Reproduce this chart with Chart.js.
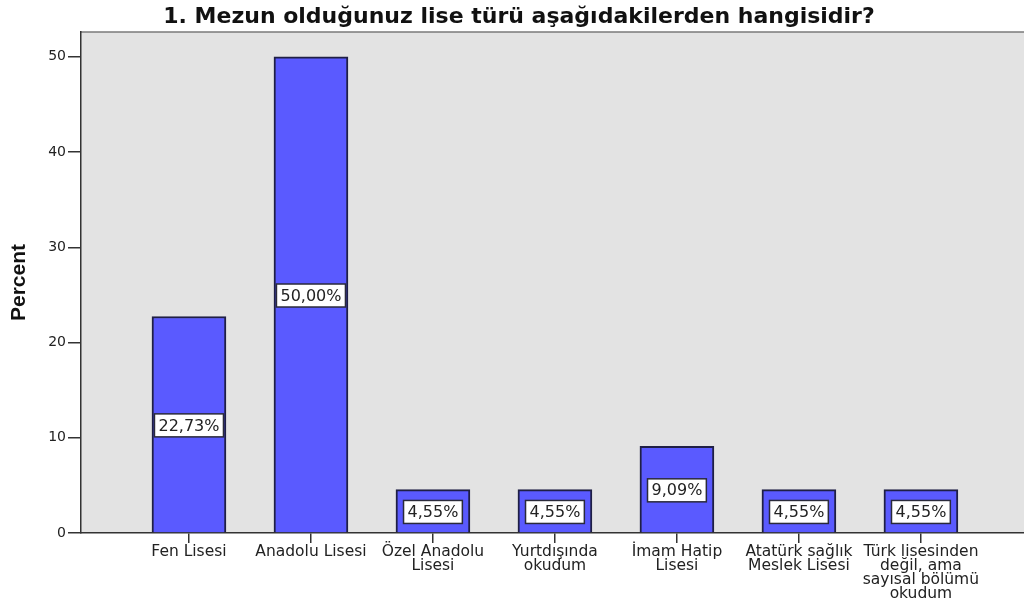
<!DOCTYPE html>
<html>
<head>
<meta charset="utf-8">
<script src="https://cdn.jsdelivr.net/npm/chart.js@4"></script>
<style>
  body { margin: 0; background: #fff; }
  #wrap { width: 1024px; height: 606px; }
</style>
</head>
<body>
<div id="wrap"><canvas id="liseChart"></canvas></div>
<script>
const chartTitle = '1. Mezun olduğunuz lise türü aşağıdakilerden hangisidir?';
const categories = [
    'Fen Lisesi',
    'Anadolu Lisesi',
    ['Özel Anadolu', 'Lisesi'],
    ['Yurtdışında', 'okudum'],
    ['İmam Hatip', 'Lisesi'],
    ['Atatürk sağlık', 'Meslek Lisesi'],
    ['Türk lisesinden', 'değil, ama', 'sayısal bölümü', 'okudum']
];
const percents = [22.73, 50.00, 4.55, 4.55, 9.09, 4.55, 4.55];
const yTicks = [0, 10, 20, 30, 40, 50];

document.addEventListener('DOMContentLoaded', function() {
    // grey plot background + thin frame on top, title
    const plotBackground = {
        id: 'plotBackground',
        beforeDraw(chart) {
            const a = chart.chartArea;
            const ctx = chart.ctx;
            ctx.save();
            ctx.fillStyle = '#e3e3e3';
            ctx.fillRect(a.left, a.top, a.right - a.left, a.bottom - a.top);
            ctx.strokeStyle = '#7a7a7a';
            ctx.lineWidth = 1.5;
            ctx.beginPath();
            ctx.moveTo(a.left, a.top);
            ctx.lineTo(a.right, a.top);
            ctx.stroke();
            ctx.restore();
        },
        afterDraw(chart) {
            const ctx = chart.ctx;
            ctx.save();
            ctx.fillStyle = '#111';
            ctx.font = 'bold 22px "DejaVu Sans"';
            ctx.textAlign = 'center';
            ctx.textBaseline = 'alphabetic';
            ctx.fillText(chartTitle, 519, 23);
            ctx.restore();
        }
    };

    // white boxed value labels in the middle of each bar
    const boxLabels = {
        id: 'boxLabels',
        afterDatasetsDraw(chart) {
            const ctx = chart.ctx;
            const meta = chart.getDatasetMeta(0);
            ctx.save();
            ctx.font = '16px "DejaVu Sans"';
            ctx.textAlign = 'center';
            ctx.textBaseline = 'middle';
            meta.data.forEach(function(bar, i) {
                const text = percents[i].toFixed(2).replace('.', ',') + '%';
                const w = ctx.measureText(text).width + 8;
                const h = 23;
                const cx = bar.x;
                const cy = (bar.y + bar.base) / 2 + 1;
                ctx.fillStyle = '#ffffff';
                ctx.fillRect(cx - w / 2, cy - h / 2, w, h);
                ctx.strokeStyle = '#2a2a3a';
                ctx.lineWidth = 1.5;
                ctx.strokeRect(cx - w / 2, cy - h / 2, w, h);
                ctx.fillStyle = '#222';
                ctx.fillText(text, cx, cy + 1);
            });
            ctx.restore();
        }
    };

    const ctx = document.getElementById('liseChart').getContext('2d');
    new Chart(ctx, {
        type: 'bar',
        data: {
            datasets: [{
                data: percents.map(function(v, i) { return { x: i, y: v }; }),
                backgroundColor: '#5a5aff',
                borderColor: '#1f1f45',
                borderWidth: 2,
                barThickness: 74
            }]
        },
        options: {
            responsive: true,
            maintainAspectRatio: false,
            animation: false,
            layout: { padding: { top: 32, left: 0, right: 0, bottom: 0 } },
            plugins: {
                legend: { display: false },
                title: { display: false },
                tooltip: { enabled: false }
            },
            scales: {
                x: {
                    type: 'linear',
                    offset: false,
                    min: -0.885,
                    max: 6.845,
                    afterBuildTicks(scale) {
                        scale.ticks = categories.map(function(c, i) { return { value: i }; });
                    },
                    afterFit(scale) { scale.height = 73; },
                    grid: {
                        offset: false,
                        drawOnChartArea: false,
                        drawTicks: true,
                        tickLength: 10,
                        color: '#333',
                        lineWidth: 1.5
                    },
                    border: { display: true, color: '#333', width: 1.5 },
                    ticks: {
                        autoSkip: false,
                        maxRotation: 0,
                        minRotation: 0,
                        padding: 2,
                        color: '#222',
                        font: { family: 'DejaVu Sans', size: 15.5, lineHeight: 0.9 },
                        callback: function(value) { return categories[value]; }
                    }
                },
                y: {
                    min: 0,
                    max: 52.6,
                    afterBuildTicks(scale) {
                        scale.ticks = yTicks.map(function(v) { return { value: v }; });
                    },
                    afterFit(scale) { scale.width = 81; },
                    grid: {
                        drawOnChartArea: false,
                        drawTicks: true,
                        tickLength: 13,
                        color: '#333',
                        lineWidth: 1.5
                    },
                    border: { display: true, color: '#333', width: 1.5 },
                    ticks: {
                        padding: 2,
                        color: '#222',
                        font: { family: 'DejaVu Sans', size: 14 }
                    },
                    title: {
                        display: true,
                        text: 'Percent',
                        color: '#111',
                        padding: { top: 7, bottom: 0 },
                        font: { family: '"Liberation Sans Narrow", "Liberation Sans"', size: 21, weight: 'bold', lineHeight: 1.2 }
                    }
                }
            }
        },
        plugins: [plotBackground, boxLabels]
    });
});
</script>
</body>
</html>
